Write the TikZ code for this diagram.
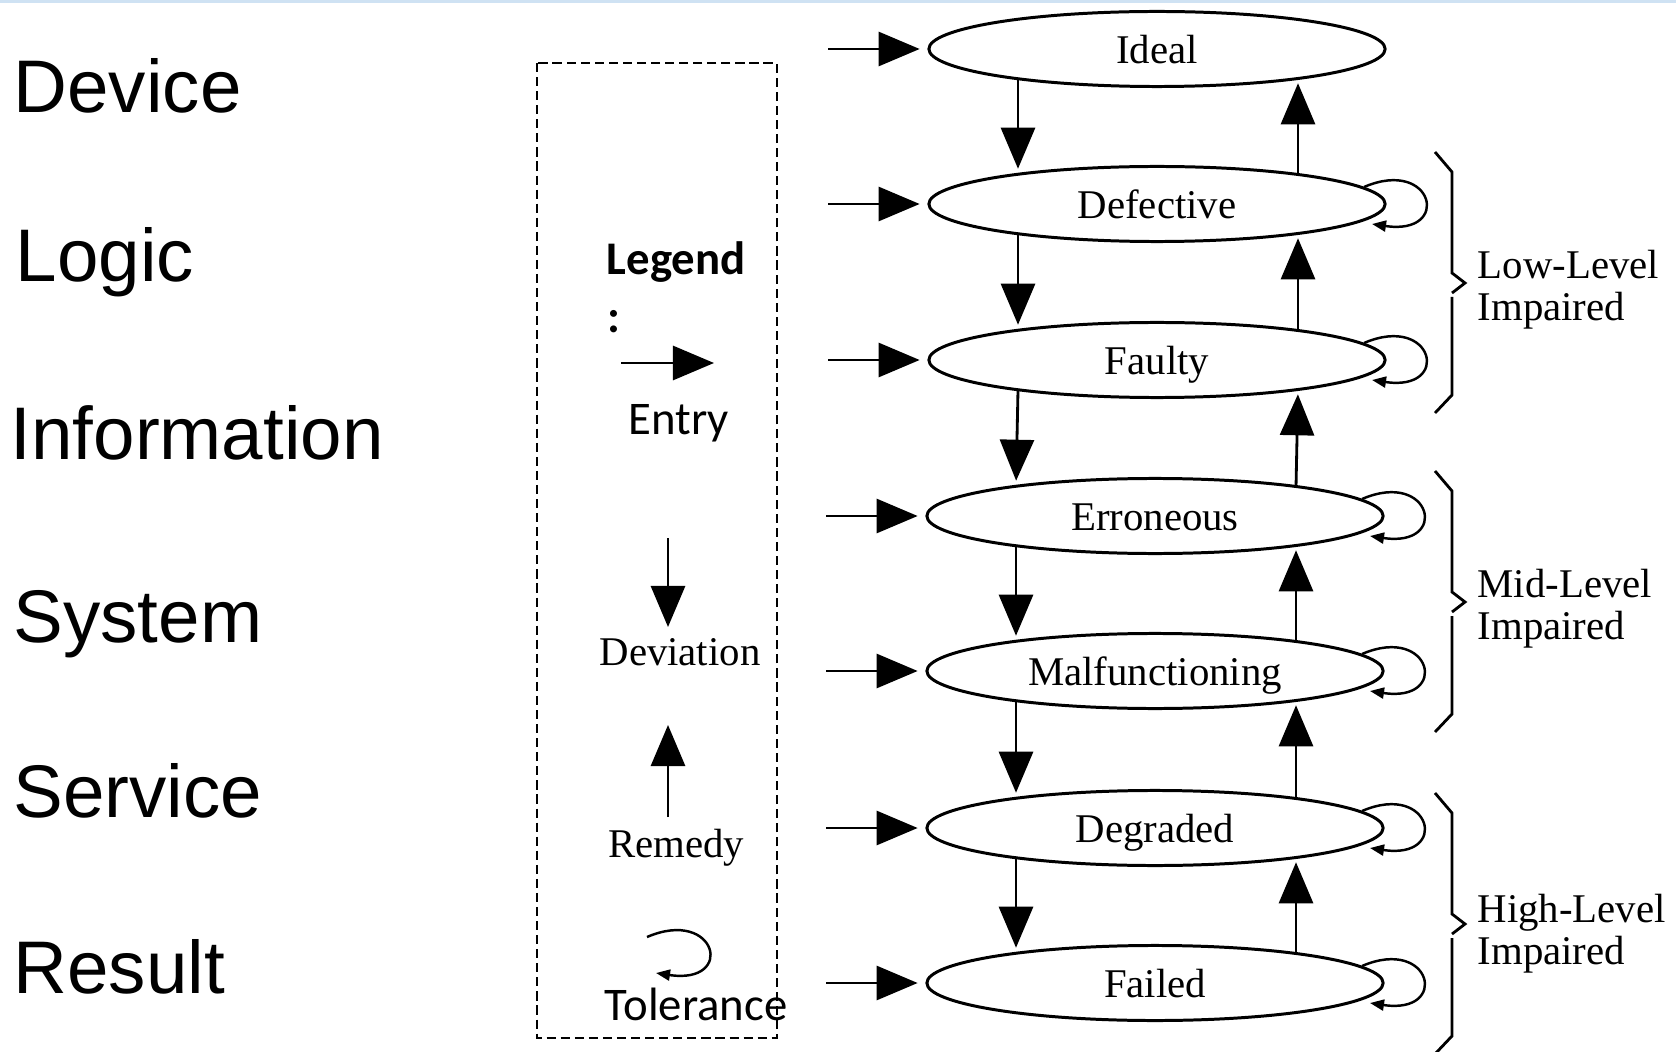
\documentclass[tikz,border=0pt]{standalone}
\usepackage{fontspec}
\setmainfont{Liberation Serif}
\newfontfamily\lyrfamily{Liberation Sans}
\newfontfamily\calfamily{Carlito}
\usetikzlibrary{arrows.meta,shapes.geometric}

\newcommand\stfont{\fontsize{11.6}{13}\selectfont}
\newcommand\lyrfont{\lyrfamily\fontsize{21.2}{24}\selectfont}
\newcommand\lgfont{\calfamily\fontsize{13.3}{15}\selectfont}

\begin{document}
\begin{tikzpicture}[x=0.01cm,y=-0.01cm,
  state/.style={ellipse,draw,line width=0.85pt,minimum width=4.56cm,minimum height=0.75cm,
    inner sep=0pt,font=\stfont,text height=9pt,text depth=1pt},
  bigarrow/.style={line width=0.8pt,-{Triangle[length=4.1mm,width=3.4mm]}},
  smallarrow/.style={line width=0.7pt,-{Triangle[length=1.4mm,width=1.1mm]}},
  bracket/.style={line width=0.8pt},
  layer/.style={anchor=base west,inner sep=0pt,font=\lyrfont},
  lgtext/.style={anchor=base west,inner sep=0pt,font=\lgfont},
  sttext/.style={inner sep=0pt,font=\stfont},
  frame/.style={line width=0.6pt,dash pattern=on 2.6pt off 1.4pt}
]
% canvas
\fill[white] (0,0) rectangle (1676,1052);
\useasboundingbox (0,0) rectangle (1676,1052);
\fill[fill={rgb,255:red,207;green,226;blue,243}] (0,0) rectangle (1676,3);

% layer names
\node[layer] (lDevice) at (13,113) {Device};
\node[layer] (lLogic) at (15,282) {Logic};
\node[layer] (lInfo) at (10,459) {Information};
\node[layer] (lSystem) at (13,642) {System};
\node[layer] (lService) at (13,817) {Service};
\node[layer] (lResult) at (13,993) {Result};

% legend frame
\draw[frame] (537,63) rectangle (777,1038);
\node[lgtext,font=\lgfont\bfseries] (lgTitle) at (606,275) {Legend};
\node[lgtext,font=\lgfont\bfseries] (lgColon) at (607,333) {:};
\coordinate (lgEa) at (621,363);
\coordinate (lgEb) at (714,363);
\draw[bigarrow] (lgEa) -- (lgEb);
\node[lgtext] (lgEntry) at (628,435) {Entry};
\coordinate (lgDa) at (668,538);
\coordinate (lgDb) at (668,627);
\draw[bigarrow] (lgDa) -- (lgDb);
\node[sttext,anchor=base] (lgDev) at (680,665) {Deviation};
\coordinate (lgRa) at (668,817);
\coordinate (lgRb) at (668,725);
\draw[bigarrow] (lgRa) -- (lgRb);
\node[sttext,anchor=base] (lgRem) at (676,857) {Remedy};
\coordinate (lgTa) at (647,937);
\coordinate (lgTb) at (656,973);
\draw[smallarrow] (lgTa) .. controls +(70,-30) and +(80,12) .. (lgTb);
\node[lgtext] (lgTol) at (604,1020) {Tolerance};

% states
\node[state] (Ideal) at (1157,49) {Ideal};
\node[state] (Defective) at (1157,204) {Defective};
\node[state] (Faulty) at (1157,360) {Faulty};
\node[state] (Erroneous) at (1155,516) {Erroneous};
\node[state] (Malfunctioning) at (1155,671) {Malfunctioning};
\node[state] (Degraded) at (1155,828) {Degraded};
\node[state] (Failed) at (1155,983) {Failed};

% entry arrows
\foreach \s in {Ideal,Defective,Faulty,Erroneous,Malfunctioning,Degraded,Failed}{
  \coordinate (in-\s) at ([shift={(-329,0)}]\s.center);
  \draw[bigarrow,shorten >=2.2pt] (in-\s) -- (\s);
}

% deviation (down) and remedy (up) arrows, leaving and meeting the ellipse rims
\foreach \a/\b in {Ideal/Defective,Defective/Faulty,Faulty/Erroneous,
    Erroneous/Malfunctioning,Malfunctioning/Degraded,Degraded/Failed}{
  \draw[bigarrow,shorten >=1.5pt] ([shift={(-139,30)}]\a.center) -- ([shift={(-139,-30)}]\b.center);
  \draw[bigarrow,shorten >=1.5pt] ([shift={(141,-29)}]\b.center) -- ([shift={(141,29)}]\a.center);
}

% tolerance loops
\foreach \s in {Defective,Faulty,Erroneous,Malfunctioning,Degraded,Failed}{
  \draw[smallarrow] ([shift={(207,-17)}]\s.center) .. controls +(70,-30) and +(80,12)
    .. ([shift={(215,20)}]\s.center);
}

% impairment brackets
\foreach \t/\n in {152/low,471/mid,793/high}{
  \draw[bracket] (1435,\t) -- (1452,\t+20) -- (1452,\t+121) -- (1465,\t+131) -- (1452,\t+141);
  \draw[bracket] (1452,\t+145) -- (1452,\t+243) -- (1435,\t+261);
}
\node[sttext,anchor=base west] (tLow) at (1477,279) {Low-Level};
\node[sttext,anchor=base west] (tLowI) at (1477,321) {Impaired};
\node[sttext,anchor=base west] (tMid) at (1477,597) {Mid-Level};
\node[sttext,anchor=base west] (tMidI) at (1477,639) {Impaired};
\node[sttext,anchor=base west] (tHigh) at (1477,922) {High-Level};
\node[sttext,anchor=base west] (tHighI) at (1477,964) {Impaired};
\end{tikzpicture}
\end{document}
